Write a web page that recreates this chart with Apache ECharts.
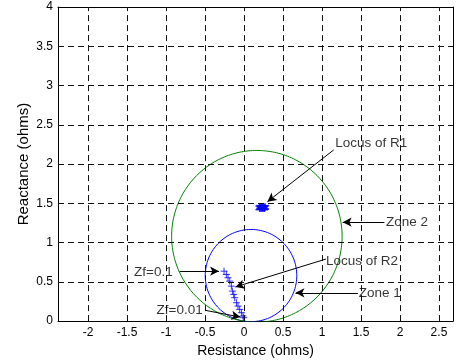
<!DOCTYPE html>
<html><head><meta charset="utf-8">
<script src="https://cdn.jsdelivr.net/npm/echarts@6/dist/echarts.min.js"></script>
<style>html,body{margin:0;padding:0;background:#fff}#c{width:457px;height:363px}</style>
</head><body><div id="c"></div>
<script>
// ---- data ----
const xTicks = [-2, -1.5, -1, -0.5, 0, 0.5, 1, 1.5, 2, 2.5];
const yTicks = [0, 0.5, 1, 1.5, 2, 2.5, 3, 3.5, 4];
const xRange = [-2.385, 2.68];
const yRange = [0, 4];
const zoneNames = ['Zone 1', 'Zone 2'];
const zoneCenters = [[0.09, 0.58], [0.165, 1.08]];
const zoneRadii = [0.587, 1.093];
const locusR1 = [[0.20, 1.44], [0.21, 1.45], [0.22, 1.44], [0.23, 1.45], [0.24, 1.44], [0.25, 1.45], [0.26, 1.44], [0.27, 1.45]];
const locusR2 = [[-0.256, 0.636], [-0.226, 0.594], [-0.205, 0.552], [-0.183, 0.509], [-0.162, 0.445],
  [-0.149, 0.382], [-0.132, 0.340], [-0.119, 0.298], [-0.097, 0.234], [-0.077, 0.191],
  [-0.055, 0.149], [-0.033, 0.107], [-0.013, 0.064], [-0.004, 0.043]];
const annotTexts = ['Locus of R1', 'Zone 2', 'Locus of R2', 'Zone 1', 'Zf=0.1', 'Zf=0.01'];
const annotTextAt = [[1.17, 2.27], [1.82, 1.26], [1.05, 0.763], [1.47, 0.35], [-0.914, 0.623], [-0.53, 0.136]];
const annotAlign = ['left', 'left', 'left', 'left', 'right', 'right'];
const arrowFrom = [[1.15, 2.18], [1.80, 1.26], [1.05, 0.79], [1.46, 0.36], [-0.826, 0.636], [-0.49, 0.136]];
const arrowTo = [[0.30, 1.52], [1.265, 1.26], [-0.11, 0.435], [0.66, 0.36], [-0.32, 0.636], [-0.046, 0.051]];

// ---- build ----
const FONT = "'Liberation Sans', Arial, sans-serif";
function circlePts(c, r) {
  const pts = [];
  for (let i = 0; i <= 240; i++) {
    const t = -Math.PI / 2 + 2 * Math.PI * i / 240;
    pts.push([c[0] + r * Math.cos(t), c[1] + r * Math.sin(t)]);
  }
  return pts;
}
const zoneColors = ['#0000ff', '#008000'];
const gridStyle = { color: '#111', type: [6, 4], width: 1 };

const series = [];
// grid lines
series.push({
  type: 'line', data: [], silent: true, z: 1,
  markLine: {
    silent: true, symbol: ['none', 'none'], animation: false, label: { show: false },
    lineStyle: gridStyle,
    data: xTicks.map(v => ({ xAxis: v })).concat(yTicks.filter(v => v > yRange[0] && v < yRange[1]).map(v => ({ yAxis: v })))
  }
});
zoneNames.forEach((n, i) => {
  series.push({
    name: n, type: 'line', data: circlePts(zoneCenters[i], zoneRadii[i]), showSymbol: false,
    symbol: 'none', lineStyle: { color: zoneColors[i], width: 1 }, z: 3, animation: false
  });
});
series.push({
  name: 'Locus of R2', type: 'scatter', data: locusR2, symbol: 'path://M0,-1L0,1M-1,0L1,0',
  symbolSize: 7, itemStyle: { color: 'transparent', borderColor: '#0000ff', borderWidth: 1 }, z: 4, animation: false
});
series.push({
  name: 'Locus of R1', type: 'scatter', data: locusR1,
  symbol: 'path://M0,-1L0,1M-0.87,-0.5L0.87,0.5M-0.87,0.5L0.87,-0.5',
  symbolSize: 8, itemStyle: { color: 'transparent', borderColor: '#0000ff', borderWidth: 1.5 }, z: 4, animation: false
});
// annotations
series.push({
  type: 'scatter', symbolSize: 0, silent: true, z: 5, animation: false,
  data: annotTexts.map((t, i) => ({
    value: annotTextAt[i], name: t,
    label: { show: true, formatter: t, position: annotAlign[i] === 'left' ? 'right' : 'left', distance: 0,
      color: '#000', fontSize: 13.5, fontFamily: FONT }
  })),
  markLine: {
    silent: true, animation: false, symbol: ['none', 'arrow'], symbolSize: [7, 9],
    label: { show: false }, lineStyle: { color: '#000', type: 'solid', width: 1 },
    data: arrowFrom.map((f, i) => [{ coord: f }, { coord: arrowTo[i] }])
  }
});

const axisText = { color: '#000', fontSize: 12, fontFamily: FONT };
const option = {
  backgroundColor: '#fff',
  animation: false,
  grid: { left: 58, right: 4, top: 7, bottom: 41, containLabel: false },
  xAxis: [{
    type: 'value', min: xRange[0], max: xRange[1], position: 'bottom',
    name: 'Resistance (ohms)', nameLocation: 'middle', nameGap: 21,
    nameTextStyle: { color: '#000', fontSize: 14, fontFamily: FONT },
    axisLine: { show: true, onZero: false, lineStyle: { color: '#000', width: 1 } },
    axisTick: { show: true, inside: true, length: 4, customValues: xTicks, lineStyle: { color: '#000' } },
    axisLabel: { show: true, customValues: xTicks, margin: 6, ...axisText },
    splitLine: { show: false }
  }, {
    type: 'value', min: xRange[0], max: xRange[1], position: 'top',
    axisLine: { show: true, onZero: false, lineStyle: { color: '#000', width: 1 } },
    axisTick: { show: true, inside: true, length: 4, customValues: xTicks, lineStyle: { color: '#000' } },
    axisLabel: { show: false }, splitLine: { show: false }
  }],
  yAxis: [{
    type: 'value', min: yRange[0], max: yRange[1], interval: 0.5, position: 'left',
    name: 'Reactance (ohms)', nameLocation: 'middle', nameGap: 27, nameMoveOverlap: false,
    nameTextStyle: { color: '#000', fontSize: 15, fontFamily: FONT },
    axisLine: { show: true, onZero: false, lineStyle: { color: '#000', width: 1 } },
    axisTick: { show: true, inside: true, length: 4, lineStyle: { color: '#000' } },
    axisLabel: { show: true, margin: 5, ...axisText },
    splitLine: { show: false }
  }, {
    type: 'value', min: yRange[0], max: yRange[1], interval: 0.5, position: 'right',
    axisLine: { show: true, onZero: false, lineStyle: { color: '#000', width: 1 } },
    axisTick: { show: true, inside: true, length: 4, lineStyle: { color: '#000' } },
    axisLabel: { show: false }, splitLine: { show: false }
  }],
  series: series
};
const chart = echarts.init(document.getElementById('c'), null, { renderer: 'canvas' });
chart.setOption(option);
</script></body></html>
